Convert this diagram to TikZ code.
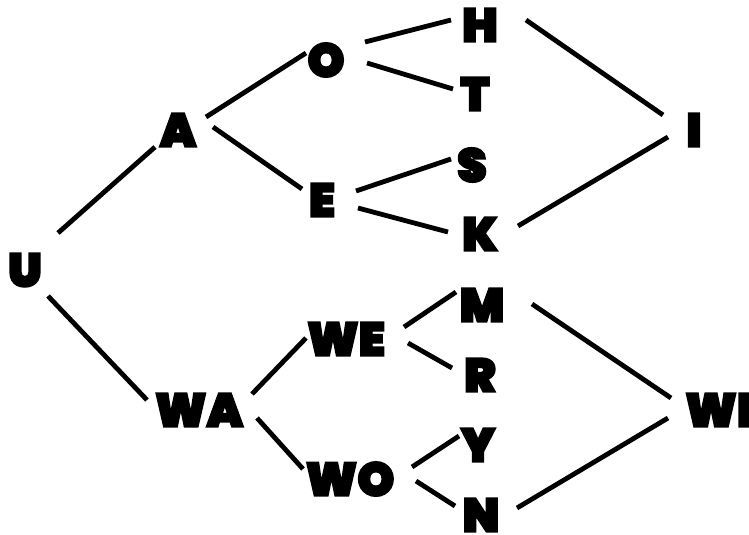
\documentclass[tikz,border=0pt]{standalone}
\usepackage{fontspec}
\IfFontExistsTF{Poppins Black}{\newfontfamily\labfont{Poppins Black}[FakeBold=4]}{%
  \IfFontExistsTF{Poppins ExtraBold}{\newfontfamily\labfont{Poppins ExtraBold}[FakeBold=4]}{%
    \newfontfamily\labfont{Poppins}[UprightFont=*-Bold,FakeBold=4]}}
\begin{document}
\begin{tikzpicture}[x=1pt,y=-1pt,
  lab/.style={inner sep=0pt,font=\labfont\fontsize{47}{47}\selectfont},
  edge/.style={line width=4.8pt,black}]
\useasboundingbox (0,0) rectangle (749,535);
\clip (0,0) rectangle (749,535);
\node[lab] (U) at (25,270) {U};
\node[lab] (A) at (178,130) {A};
\node[lab] (WA) at (199,410) {WA};
\node[lab] (O) at (326,60) {O};
\node[lab] (E) at (322,200) {E};
\node[lab] (WE) at (346,339) {WE};
\node[lab] (WO) at (350,479) {WO};
\node[lab] (H) at (480,25) {H};
\node[lab] (T) at (475,94) {T};
\node[lab] (S) at (472,165) {S};
\node[lab] (K) at (480,234) {K};
\node[lab] (M) at (482,305) {M};
\node[lab] (R) at (480,375) {R};
\node[lab] (Y) at (478,445) {Y};
\node[lab] (N) at (481,515) {N};
\node[lab] (I) at (694,130) {I};
\node[lab,anchor=west] (WI) at (685,410) {WI};
\draw[edge] ([shift={(33,-37)}]U.center) -- ([shift={(-23,17)}]A.center);
\draw[edge] ([shift={(23,26)}]U.center) -- ([shift={(-52,-10)}]WA.center);
\draw[edge] ([shift={(28,-13)}]A.center) -- ([shift={(-20,-7)}]O.center);
\draw[edge] ([shift={(35,-3)}]A.center) -- ([shift={(-20,-11)}]E.center);
\draw[edge] ([shift={(39,-18)}]O.center) -- ([shift={(-29,-5)}]H.center);
\draw[edge] ([shift={(41,3)}]O.center) -- ([shift={(-22,-5)}]T.center);
\draw[edge] ([shift={(34,-9)}]E.center) -- ([shift={(-21,-6)}]S.center);
\draw[edge] ([shift={(36,8)}]E.center) -- ([shift={(-32,-2)}]K.center);
\draw[edge] ([shift={(46,-5)}]H.center) -- ([shift={(-31,-15)}]I.center);
\draw[edge] ([shift={(38,-8)}]K.center) -- ([shift={(-26,7)}]I.center);
\draw[edge] ([shift={(53,-16)}]WA.center) -- ([shift={(-40,-1)}]WE.center);
\draw[edge] ([shift={(58,8)}]WA.center) -- ([shift={(-47,-10)}]WO.center);
\draw[edge] ([shift={(58,-12)}]WE.center) -- ([shift={(-26,-13)}]M.center);
\draw[edge] ([shift={(62,4)}]WE.center) -- ([shift={(-28,-7)}]R.center);
\draw[edge] ([shift={(62,-12)}]WO.center) -- ([shift={(-19,-9)}]Y.center);
\draw[edge] ([shift={(66,2)}]WO.center) -- ([shift={(-26,-9)}]N.center);
\draw[edge] ([shift={(50,-1)}]M.center) -- ([shift={(-14,-12)}]WI.west);
\draw[edge] ([shift={(36,-7)}]N.center) -- ([shift={(-17,8)}]WI.west);
\end{tikzpicture}
\end{document}
